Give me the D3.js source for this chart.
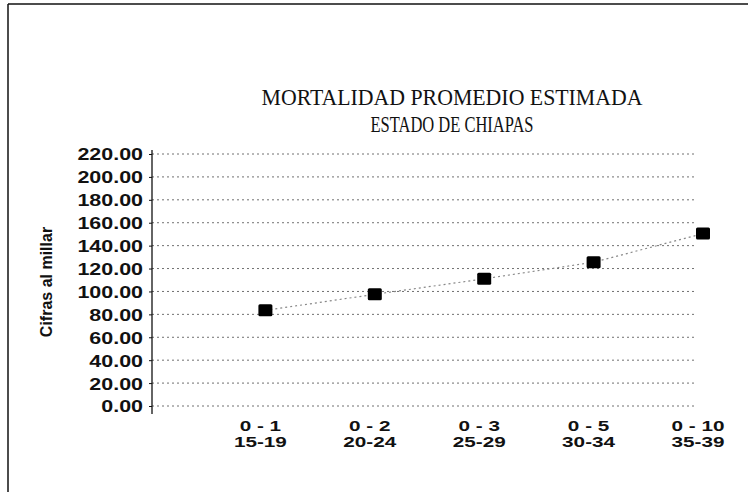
<!DOCTYPE html>
<html>
<head>
<meta charset="utf-8">
<script src="https://cdn.jsdelivr.net/npm/d3@7"></script>
<style>
  html, body { margin: 0; padding: 0; background: #fff; }
  svg { display: block; }
</style>
</head>
<body>
<svg id="chart" width="748" height="492"></svg>
<script>
// Estimated average mortality, Chiapas (per thousand)
const titleLines = ["MORTALIDAD PROMEDIO ESTIMADA", "ESTADO DE CHIAPAS"];
const yAxisTitle = "Cifras al millar";
const catTop = ["0 - 1", "0 - 2", "0 - 3", "0 - 5", "0 - 10"];
const catBottom = ["15-19", "20-24", "25-29", "30-34", "35-39"];
const mortality = [83.5, 97.5, 111.0, 125.5, 150.5];
const yTicks = [0, 20, 40, 60, 80, 100, 120, 140, 160, 180, 200, 220];

const svg = d3.select("#chart");
const W = 748, H = 492;
const sansFont = "'Liberation Sans', Arial, sans-serif";
const widen = 1.3; // horizontal stretch of the bold labels

// stretch a text selection horizontally, keeping its anchor
function stretch(sel, factor = widen) {
  sel.each(function () {
    const len = this.getComputedTextLength();
    d3.select(this).attr("textLength", len * factor).attr("lengthAdjust", "spacingAndGlyphs");
  });
}

// outer frame (top and left edges visible)
svg.append("line").attr("x1", 8).attr("y1", 4).attr("x2", W).attr("y2", 4)
  .attr("stroke", "#111").attr("stroke-width", 1.5);
svg.append("line").attr("x1", 8).attr("y1", 4).attr("x2", 8).attr("y2", H)
  .attr("stroke", "#111").attr("stroke-width", 1.5);

// title
const titleG = svg.append("g").attr("font-family", "'Liberation Serif', 'DejaVu Serif', serif")
  .attr("fill", "#111");
const titleWidths = [381, 163];
titleLines.forEach((t, i) => {
  titleG.append("text")
    .attr("x", 452).attr("y", 105 + i * 27)
    .attr("text-anchor", "middle")
    .attr("font-size", 24)
    .attr("textLength", titleWidths[i])
    .attr("lengthAdjust", "spacingAndGlyphs")
    .text(t);
});

// scales
const plotLeft = 152, gridRight = 694;
const x = d3.scaleLinear().domain([0, mortality.length]).range([156, 703]);
const y = d3.scaleLinear().domain([0, 220]).range([406, 154]);

// horizontal dotted gridlines
svg.append("g").selectAll("line").data(yTicks).join("line")
  .attr("x1", plotLeft).attr("x2", gridRight)
  .attr("y1", d => y(d)).attr("y2", d => y(d))
  .attr("stroke", "#333").attr("stroke-opacity", 0.7)
  .attr("stroke-width", 1).attr("stroke-dasharray", "2,3");

// y axis
const yAxis = d3.axisLeft(y).tickValues(yTicks).tickFormat(d3.format(".2f"))
  .tickSize(3).tickSizeOuter(0).tickPadding(6);
const yG = svg.append("g").attr("transform", `translate(${plotLeft},0)`).call(yAxis);
yG.select(".domain").attr("stroke", "#111").attr("stroke-width", 1.3)
  .attr("d", `M0,${y(220) - 4}V${y(0) + 8}`);
yG.selectAll(".tick line").attr("stroke", "#111");
yG.selectAll(".tick text")
  .attr("font-family", sansFont)
  .attr("font-weight", "bold").attr("font-size", 16.5).attr("fill", "#111")
  .attr("dy", "0.36em")
  .call(stretch);

// y axis title
svg.append("text")
  .attr("transform", `translate(52,282) rotate(-90)`)
  .attr("text-anchor", "middle")
  .attr("font-family", sansFont)
  .attr("font-weight", "bold").attr("font-size", 16).attr("fill", "#111")
  .text(yAxisTitle);

// category labels: two stacked lines per category
const xl = svg.append("g")
  .attr("font-family", sansFont)
  .attr("font-weight", "bold").attr("font-size", 15).attr("fill", "#111")
  .attr("text-anchor", "middle");
catTop.forEach((c, i) => {
  const cx = x(i + 1) - 5;
  xl.append("text").attr("x", cx).attr("y", 431).text(c).call(stretch, 1.38);
  xl.append("text").attr("x", cx).attr("y", 447).text(catBottom[i]).call(stretch, 1.38);
});

// dotted trend connecting the points
const line = d3.line().x((d, i) => x(i + 1)).y(d => y(d));
svg.append("path").datum(mortality)
  .attr("d", line).attr("fill", "none")
  .attr("stroke", "#888").attr("stroke-width", 1.2)
  .attr("stroke-dasharray", "2,3");

// square markers
svg.append("g").selectAll("rect").data(mortality).join("rect")
  .attr("x", (d, i) => x(i + 1) - 7)
  .attr("y", d => y(d) - 6)
  .attr("width", 14).attr("height", 12)
  .attr("rx", 1.5)
  .attr("fill", "#000");
</script>
</body>
</html>
